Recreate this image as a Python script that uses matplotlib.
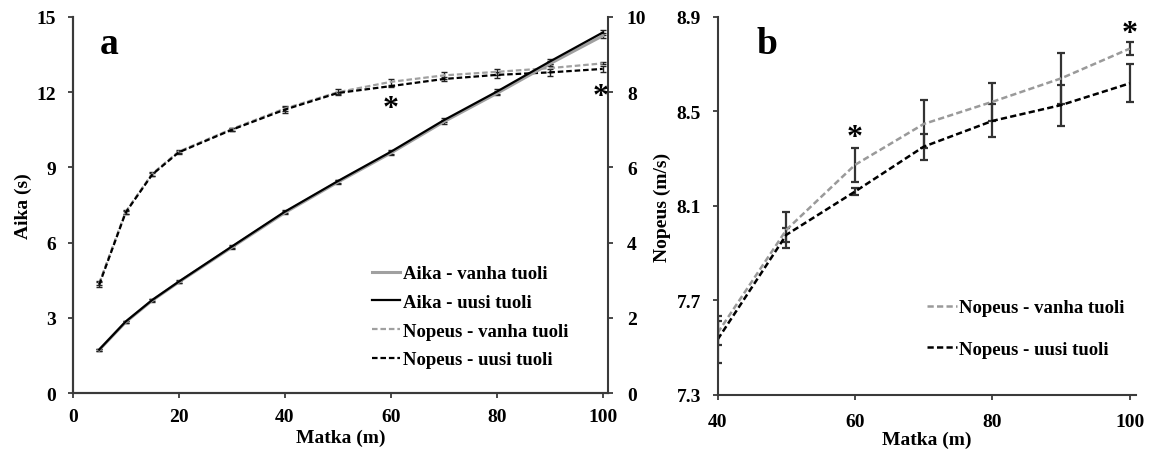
import matplotlib
matplotlib.use("Agg")
import matplotlib.pyplot as plt

plt.rcParams['font.family'] = ['Liberation Serif', 'DejaVu Serif']
plt.rcParams['font.weight'] = 'bold'

# matka (m)
matka = [5, 10, 15, 20, 30, 40, 50, 60, 70, 80, 90, 100]

# aika (s)
aika_vanha = [1.72, 2.83, 3.69, 4.42, 5.81, 7.19, 8.41, 9.57, 10.82, 11.95, 13.13, 14.25]
aika_uusi = [1.73, 2.85, 3.71, 4.44, 5.84, 7.23, 8.45, 9.62, 10.88, 12.02, 13.22, 14.38]
aika_vanha_sd = [0.04, 0.04, 0.05, 0.05, 0.05, 0.06, 0.07, 0.07, 0.08, 0.08, 0.1, 0.1]
aika_uusi_sd = [0.04, 0.04, 0.05, 0.05, 0.05, 0.06, 0.06, 0.07, 0.08, 0.09, 0.1, 0.1]

# nopeus (m/s)
nopeus_vanha = [2.92, 4.82, 5.83, 6.42, 7.02, 7.563, 7.999, 8.274, 8.447, 8.541, 8.640, 8.766]
nopeus_uusi = [2.88, 4.80, 5.81, 6.40, 7.00, 7.535, 7.978, 8.161, 8.351, 8.460, 8.527, 8.619]
nopeus_vanha_sd = [0.06, 0.05, 0.05, 0.04, 0.04, 0.05, 0.075, 0.073, 0.10, 0.08, 0.107, 0.028]
nopeus_uusi_sd = [0.06, 0.05, 0.05, 0.04, 0.04, 0.10, 0.03, 0.015, 0.055, 0.07, 0.087, 0.08]

# kuva b: vain 40-100 m
b_alku = 5

# merkitsevyys (*)
tahti_a = [(60, 11.64), (99.7, 12.1)]
tahti_b = [(60, 8.421), (100, 8.859)]

GREY = '#a0a0a0'
SPINE = '#3a3a3a'
FS = 13.5
TFS = 14


def style(ax, sides):
    for s in ['top', 'right', 'left', 'bottom']:
        ax.spines[s].set_visible(s in sides)
        ax.spines[s].set_color(SPINE)
        ax.spines[s].set_linewidth(1.5)
    ax.tick_params(direction='out', length=3.6, width=1.3, color=SPINE,
                   labelsize=TFS)
    ax.tick_params(axis='y', pad=8.5)
    ax.tick_params(axis='x', pad=7.5)
    for lab in ax.get_xticklabels() + ax.get_yticklabels():
        lab.set_fontweight('bold')


def tahti(ax, pts):
    for x, y in pts:
        ax.annotate('*', (x, y), xytext=(0, -5), textcoords='offset points',
                    fontsize=23, ha='center', va='center')


fig = plt.figure(figsize=(11.59, 4.52), dpi=100)

# ---- a ----
ax1 = fig.add_axes([0.0627, 0.1283, 0.4619, 0.8319])
ax2 = ax1.twinx()
ax1.set_zorder(ax2.get_zorder() + 1)
ax1.patch.set_visible(False)

eb = dict(elinewidth=1.0, capsize=2, capthick=1.0, ecolor='#222222')
l1 = ax1.errorbar(matka, aika_vanha, yerr=aika_vanha_sd, color=GREY, lw=2.2, **eb)
l2 = ax1.errorbar(matka, aika_uusi, yerr=aika_uusi_sd, color='black', lw=1.6, **eb)
l3 = ax2.errorbar(matka, nopeus_vanha, yerr=nopeus_vanha_sd, color=GREY, lw=1.6,
                  dashes=(2.5, 1.3), **eb)
l4 = ax2.errorbar(matka, nopeus_uusi, yerr=nopeus_uusi_sd, color='black', lw=1.6,
                  dashes=(2.5, 1.3), **eb)

ax1.set_xlim(0, 101)
ax1.set_ylim(0, 15)
ax2.set_ylim(0, 10)
ax1.set_xticks([0, 20, 40, 60, 80, 100])
ax1.set_yticks([0, 3, 6, 9, 12, 15])
ax2.set_yticks([0, 2, 4, 6, 8, 10])
style(ax1, ['left', 'bottom'])
style(ax2, ['right', 'left', 'bottom'])
ax2.tick_params(axis='y', pad=10)
ax1.set_xlabel('Matka (m)', fontsize=FS + 0.5, fontweight='bold', labelpad=2)
ax1.set_ylabel('Aika (s)', fontsize=FS + 0.5, fontweight='bold', labelpad=3)
ax1.text(0.05, 0.905, 'a', transform=ax1.transAxes, fontsize=27,
         fontweight='bold', va='baseline')
tahti(ax1, tahti_a)

ax1.legend([l1[0], l2[0], l3[0], l4[0]],
           ['Aika - vanha tuoli', 'Aika - uusi tuoli',
            'Nopeus - vanha tuoli', 'Nopeus - uusi tuoli'],
           loc='upper left', bbox_to_anchor=(372 / 1159, 1 - 266 / 452),
           bbox_transform=fig.transFigure, frameon=False, borderpad=0,
           borderaxespad=0, handlelength=1.5, handletextpad=0.15,
           labelspacing=0.62, prop={'size': FS, 'weight': 'bold'})

# ---- b ----
ax3 = fig.add_axes([0.6192, 0.1239, 0.3610, 0.8363])
mb = matka[b_alku:]
l5 = ax3.errorbar(mb, nopeus_vanha[b_alku:], yerr=nopeus_vanha_sd[b_alku:],
                  color='#9a9a9a', lw=1.8, dashes=(2.5, 1.3),
                  elinewidth=1.6, capsize=3, capthick=1.6, ecolor='#333333')
l6 = ax3.errorbar(mb, nopeus_uusi[b_alku:], yerr=nopeus_uusi_sd[b_alku:],
                  color='black', lw=1.8, dashes=(2.5, 1.3),
                  elinewidth=1.6, capsize=3, capthick=1.6, ecolor='#333333')
ax3.set_xlim(40, 100.93)
ax3.set_ylim(7.3, 8.9)
ax3.set_xticks([40, 60, 80, 100])
ax3.set_yticks([7.3, 7.7, 8.1, 8.5, 8.9])
style(ax3, ['left', 'bottom'])
ax3.tick_params(axis='x', pad=9.5)
ax3.set_xlabel('Matka (m)', fontsize=FS + 0.5, fontweight='bold', labelpad=0)
ax3.set_ylabel('Nopeus (m/s)', fontsize=FS + 0.5, fontweight='bold', labelpad=4)
ax3.text(0.094, 0.905, 'b', transform=ax3.transAxes, fontsize=27,
         fontweight='bold', va='baseline')
tahti(ax3, tahti_b)
ax3.legend([l5[0], l6[0]], ['Nopeus - vanha tuoli', 'Nopeus - uusi tuoli'],
           loc='upper left', bbox_to_anchor=(927 / 1159, 1 - 300 / 452),
           bbox_transform=fig.transFigure, frameon=False, borderpad=0,
           borderaxespad=0, handlelength=1.6, handletextpad=0.1,
           labelspacing=1.3, prop={'size': FS, 'weight': 'bold'})

fig.savefig('out.png', dpi=100)
